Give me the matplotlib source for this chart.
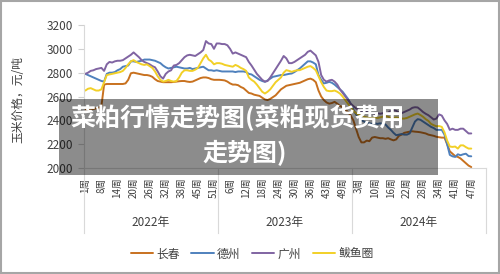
import matplotlib
matplotlib.use('Agg')
import matplotlib.pyplot as plt
from matplotlib.patches import Rectangle
from matplotlib.transforms import blended_transform_factory

plt.rcParams['font.family'] = ['Noto Sans CJK SC', 'DejaVu Sans']

# weeks with no quote in each year (holiday weeks)
years = ['2022年', '2023年', '2024年']
skipped_weeks = {'2022年': [5, 40], '2023年': [4, 40], '2024年': [7, 40]}

# weekly prices, yuan/ton
changchun = [
    2490, 2490, 2495, 2495, 2500, 2505, 2520, 2700, 2705, 2705,
    2705, 2705, 2705, 2705, 2705, 2710, 2740, 2795, 2800, 2795,
    2790, 2785, 2780, 2780, 2775, 2765, 2745, 2730, 2725, 2720,
    2720, 2720, 2720, 2722, 2725, 2728, 2730, 2730, 2725, 2722,
    2725, 2735, 2745, 2755, 2760, 2760, 2755, 2745, 2740, 2740,
    2740, 2738, 2735, 2725, 2710, 2700, 2700, 2695, 2680, 2670,
    2650, 2630, 2625, 2615, 2610, 2605, 2590, 2575, 2570, 2580,
    2595, 2610, 2635, 2660, 2675, 2690, 2695, 2700, 2705, 2710,
    2715, 2725, 2735, 2745, 2750, 2740, 2720, 2650, 2600, 2570,
    2550, 2540, 2545, 2555, 2540, 2520, 2510, 2490, 2470, 2440,
    2400, 2330, 2260, 2215, 2215, 2230, 2225, 2255, 2260, 2255,
    2250, 2250, 2245, 2250, 2240, 2232, 2240, 2270, 2280, 2295,
    2300, 2305, 2308, 2305, 2303, 2300, 2295, 2290, 2280, 2275,
    2270, 2262, 2258, 2255, 2255, 2200, 2140, 2120, 2100, 2093,
    2080, 2060, 2040, 2020, 2008]
dezhou = [
    2790, 2780, 2770, 2760, 2750, 2740, 2730, 2725, 2790, 2800,
    2800, 2805, 2820, 2830, 2850, 2855, 2860, 2895, 2895, 2890,
    2895, 2900, 2910, 2910, 2910, 2905, 2900, 2890, 2880, 2860,
    2845, 2835, 2840, 2845, 2850, 2845, 2840, 2835, 2835, 2840,
    2830, 2835, 2840, 2845, 2850, 2835, 2820, 2820, 2815, 2820,
    2815, 2810, 2810, 2810, 2810, 2810, 2805, 2810, 2810, 2810,
    2805, 2790, 2785, 2770, 2755, 2740, 2730, 2723, 2735, 2750,
    2765, 2770, 2775, 2780, 2780, 2785, 2790, 2793, 2805, 2820,
    2835, 2855, 2875, 2895, 2895, 2885, 2870, 2780, 2740, 2710,
    2715, 2723, 2715, 2700, 2680, 2660, 2640, 2610, 2580, 2540,
    2490, 2450, 2420, 2400, 2390, 2380, 2375, 2370, 2375, 2370,
    2375, 2370, 2365, 2340, 2320, 2295, 2275, 2280, 2285, 2280,
    2280, 2290, 2340, 2390, 2410, 2405, 2390, 2375, 2360, 2345,
    2335, 2320, 2320, 2320, 2280, 2200, 2110, 2098, 2093, 2115,
    2107, 2115, 2120, 2100, 2098]
guangzhou = [
    2790, 2800, 2815, 2820, 2830, 2835, 2840, 2815, 2870, 2890,
    2885, 2895, 2900, 2900, 2905, 2920, 2935, 2950, 2970, 2950,
    2930, 2905, 2890, 2880, 2870, 2855, 2845, 2810, 2770, 2750,
    2790, 2810, 2820, 2860, 2865, 2880, 2905, 2930, 2945, 2950,
    2945, 2940, 2955, 2970, 2990, 3065, 3045, 3040, 3000, 3045,
    3045, 3040, 3040, 3030, 3000, 2960, 2970, 2960, 2950, 2940,
    2930, 2890, 2860, 2825, 2790, 2765, 2740, 2725, 2730, 2760,
    2795, 2830, 2865, 2900, 2940, 2920, 2880, 2880, 2890, 2905,
    2920, 2935, 2950, 2975, 2985, 2965, 2945, 2890, 2780, 2740,
    2725, 2735, 2740, 2725, 2700, 2660, 2630, 2600, 2570, 2540,
    2520, 2500, 2490, 2480, 2470, 2470, 2465, 2460, 2455, 2460,
    2455, 2460, 2455, 2465, 2480, 2485, 2480, 2465, 2460, 2470,
    2480, 2490, 2505, 2510, 2508, 2490, 2470, 2455, 2443, 2425,
    2407, 2415, 2450, 2440, 2400, 2370, 2320, 2330, 2320, 2320,
    2330, 2330, 2310, 2290, 2290]
bayuquan = [
    2650, 2665, 2670, 2660, 2650, 2650, 2660, 2720, 2780, 2785,
    2790, 2795, 2800, 2805, 2815, 2840, 2870, 2895, 2905, 2890,
    2880, 2870, 2865, 2870, 2855, 2840, 2810, 2770, 2740, 2725,
    2730, 2740, 2730, 2725, 2730, 2760, 2800, 2820, 2820, 2815,
    2815, 2825, 2840, 2880, 2920, 2950, 2910, 2895, 2870, 2880,
    2880, 2875, 2865, 2860, 2855, 2850, 2865, 2855, 2840, 2830,
    2815, 2760, 2740, 2725, 2700, 2670, 2640, 2625, 2640, 2660,
    2690, 2720, 2740, 2760, 2800, 2821, 2815, 2807, 2815, 2820,
    2821, 2830, 2840, 2850, 2855, 2840, 2820, 2770, 2720, 2680,
    2650, 2645, 2645, 2650, 2640, 2625, 2600, 2570, 2540, 2510,
    2480, 2460, 2445, 2440, 2430, 2425, 2420, 2420, 2425, 2420,
    2425, 2430, 2435, 2430, 2420, 2420, 2425, 2420, 2415, 2415,
    2420, 2430, 2440, 2450, 2457, 2445, 2430, 2410, 2395, 2370,
    2359, 2350, 2352, 2345, 2300, 2230, 2180, 2177, 2180, 2163,
    2190, 2190, 2175, 2163, 2163]

series = [('长春', changchun, '#c8711f'),
          ('德州', dezhou, '#4f81bd'),
          ('广州', guangzhou, '#8064a2'),
          ('鲅鱼圈', bayuquan, '#f2d027')]

# build category axis: year -> weeks
cats = []
year_start = []
for y in years:
    year_start.append(len(cats))
    for w in range(1, 53):
        if w not in skipped_weeks[y]:
            cats.append(f'{w}周')
year_start.append(len(cats))

fig = plt.figure(figsize=(5, 2.74), dpi=100)
ax = fig.add_axes([84 / 500, 1 - 168 / 274, 402 / 500, 143 / 274])

for name, vals, col in series:
    ax.plot(range(len(vals)), vals, color=col, lw=1.4, label=name, solid_capstyle='round')

ax.set_xlim(-0.5, len(cats) - 0.5)
ax.set_ylim(2000, 3200)
ax.set_yticks(range(2000, 3201, 200))
ax.tick_params(axis='y', labelsize=8.5, colors='#d0d0d0', labelcolor='#404040',
               length=4, pad=4)
tick_idx = list(range(0, len(cats), 6))
ax.set_xticks(tick_idx)
ax.set_xticklabels([cats[i] for i in tick_idx], rotation=90, fontsize=7, color='#404040')
ax.tick_params(axis='x', length=0, pad=7)
for s in ['top', 'right']:
    ax.spines[s].set_visible(False)
for s in ['left', 'bottom']:
    ax.spines[s].set_color('#d9d9d9')

# year group separators and labels
trans = blended_transform_factory(ax.transData, ax.transAxes)
for b in year_start:
    ax.plot([b - 0.5, b - 0.5], [0, -0.455], transform=trans, color='#d9d9d9',
            lw=0.8, clip_on=False)
for k, y in enumerate(years):
    mid = (year_start[k] + year_start[k + 1]) / 2 - 0.5
    ax.text(mid, -0.378, y, transform=trans, ha='center', va='center',
            fontsize=8.5, color='#404040')

fig.text(18 / 500, 1 - 100 / 274, '玉米价格，元/吨', rotation=90, ha='center', va='center',
         fontsize=8.5, color='#404040')

fig.legend(loc='center', bbox_to_anchor=(252 / 500, 1 - 254 / 274), ncol=4, frameon=False,
           fontsize=8.5, handlelength=1.9, handletextpad=0.25, columnspacing=1.0,
           labelcolor='#404040')

# title banner over the plot
fig.add_artist(Rectangle((59 / 500, 1 - 175 / 274), (438 - 59) / 500, 76 / 274,
                         transform=fig.transFigure, color='black', alpha=0.45,
                         lw=0, zorder=10))
fig.text(238 / 500, 1 - 118 / 274, '菜粕行情走势图(菜粕现货费用', ha='center', va='center',
         fontsize=18, fontweight='bold', color='white', zorder=11)
fig.text(245 / 500, 1 - 153 / 274, '走势图)', ha='center', va='center',
         fontsize=18, fontweight='bold', color='white', zorder=11)

fig.add_artist(Rectangle((0.001, 0.002), 0.997, 0.995, transform=fig.transFigure,
                         fill=False, edgecolor='#a6a6a6', lw=1.5))

fig.savefig('out.png', dpi=100)
